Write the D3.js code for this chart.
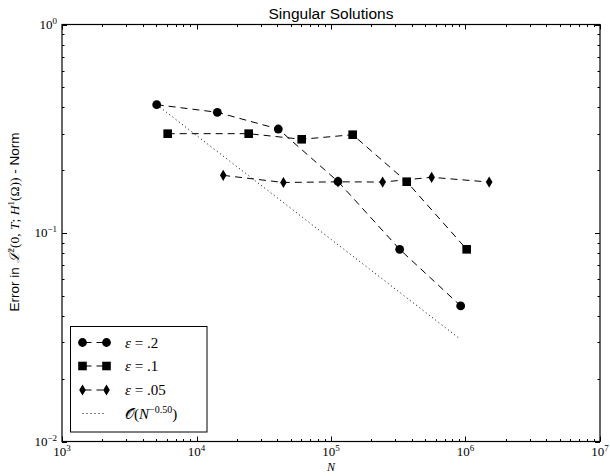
<!DOCTYPE html>
<html><head><meta charset="utf-8">
<script src="https://cdn.jsdelivr.net/npm/d3@7"></script>
<style>body{margin:0;background:#fff}</style>
</head><body><svg id="c" width="610" height="476"></svg>
<script>
// ---- data ----
const eps2N  = [5058, 14280, 40560, 112700, 324000, 920800];
const eps2E  = [0.4124, 0.3793, 0.3153, 0.1766, 0.0835, 0.0447];
const eps1N  = [6106, 24430, 60560, 144900, 365500, 1020000];
const eps1E  = [0.2995, 0.2995, 0.2815, 0.2961, 0.1762, 0.0835];
const eps05N = [15800, 44300, 112700, 242000, 560000, 1500000];
const eps05E = [0.189, 0.1747, 0.176, 0.1755, 0.185, 0.1755];
const refN   = [5058, 895000];
const refE   = [0.4124, 0.0313];
const xTickExps = [3, 4, 5, 6, 7];
const yTickExps = [-2, -1, 0];
const seriesNames = ["ε = .2", "ε = .1", "ε = .05", "O(N^-0.50)"];
const titleText = "Singular Solutions";

const svg = d3.select("#c");
const L = 62, R = 600, T = 24.5, B = 441.5;
const x = d3.scaleLog().domain([1e3, 1e7]).range([L, R]);
const y = d3.scaleLog().domain([1e-2, 1e0]).range([B, T]);

const serif = "'Liberation Serif', 'DejaVu Serif', serif";
const sans = "'Liberation Sans', Arial, sans-serif";

// ticks (inward) on all four sides
const xMinor = x.ticks().filter(v => !xTickExps.some(e => Math.abs(v - Math.pow(10, e)) < 1e-9 * v));
const yMinor = y.ticks().filter(v => !yTickExps.some(e => Math.abs(v - Math.pow(10, e)) < 1e-9 * v));
const xMajor = xTickExps.map(e => Math.pow(10, e));
const yMajor = yTickExps.map(e => Math.pow(10, e));
const tk = svg.append("g").attr("stroke", "#000").attr("stroke-width", 1);
function xt(vals, len) {
  vals.forEach(v => {
    const px = Math.round(x(v)) + 0.5;
    tk.append("line").attr("x1", px).attr("x2", px).attr("y1", B).attr("y2", B - len);
    tk.append("line").attr("x1", px).attr("x2", px).attr("y1", T).attr("y2", T + len);
  });
}
function yt(vals, len) {
  vals.forEach(v => {
    const py = Math.round(y(v)) + 0.5;
    tk.append("line").attr("x1", L).attr("x2", L + len).attr("y1", py).attr("y2", py);
    tk.append("line").attr("x1", R).attr("x2", R - len).attr("y1", py).attr("y2", py);
  });
}
xt(xMinor, 2.5); xt(xMajor, 5);
yt(yMinor, 2.5); yt(yMajor, 5);

// tick labels
xTickExps.forEach(e => {
  const t = svg.append("text").attr("x", x(Math.pow(10, e))).attr("y", 456)
    .attr("text-anchor", "middle").attr("font-family", serif).attr("font-size", 13);
  t.append("tspan").text("10");
  t.append("tspan").attr("dy", -5).attr("font-size", 9).text(String(e));
});
yTickExps.forEach(e => {
  const t = svg.append("text").attr("x", 57).attr("y", y(Math.pow(10, e)) + 4)
    .attr("text-anchor", "end").attr("font-family", serif).attr("font-size", 13);
  t.append("tspan").text("10");
  t.append("tspan").attr("dy", -5).attr("font-size", 9).text(e < 0 ? "\u2212" + (-e) : String(e));
});

// frame
svg.append("rect").attr("x", L).attr("y", T).attr("width", R - L).attr("height", B - T)
  .attr("fill", "none").attr("stroke", "#000").attr("stroke-width", 1.2);

// title and axis labels
svg.append("text").attr("x", (L + R) / 2).attr("y", 18.5).attr("text-anchor", "middle")
  .attr("font-family", sans).attr("font-size", 15.5).text(titleText);
svg.append("text").attr("x", 331).attr("y", 471).attr("text-anchor", "middle")
  .attr("font-family", serif).attr("font-style", "italic").attr("font-size", 12).text("N");

const yl = svg.append("text").attr("transform", "translate(19,222) rotate(-90)")
  .attr("text-anchor", "middle").attr("font-size", 13.5).attr("font-family", sans);
yl.append("tspan").text("Error in ");
yl.append("tspan").attr("font-family", serif).attr("font-style", "italic").text("\u2112");
yl.append("tspan").attr("font-family", serif).attr("font-size", 9).attr("dy", -5).text("2");
yl.append("tspan").attr("font-family", serif).attr("dy", 5).text("(0, ");
yl.append("tspan").attr("font-family", serif).attr("font-style", "italic").text("T");
yl.append("tspan").attr("font-family", serif).text("; ");
yl.append("tspan").attr("font-family", serif).attr("font-style", "italic").text("H");
yl.append("tspan").attr("font-family", serif).attr("font-size", 9).attr("dy", -5).text("1");
yl.append("tspan").attr("font-family", serif).attr("dy", 5).text("(\u03A9))");
yl.append("tspan").text(" - Norm");

// markers
function marker(g, type, cx, cy) {
  if (type === "circle") g.append("circle").attr("cx", cx).attr("cy", cy).attr("r", 4.4).attr("fill", "#000");
  else if (type === "square") g.append("rect").attr("x", cx - 4.3).attr("y", cy - 4.3).attr("width", 8.6).attr("height", 8.6).attr("fill", "#000");
  else g.append("path").attr("d", `M${cx},${cy - 5.6}L${cx + 3.3},${cy}L${cx},${cy + 5.6}L${cx - 3.3},${cy}Z`).attr("fill", "#000");
}
const line = d3.line().x(d => x(d[0])).y(d => y(d[1]));
const series = [
  { N: eps2N, E: eps2E, m: "circle" },
  { N: eps1N, E: eps1E, m: "square" },
  { N: eps05N, E: eps05E, m: "diamond" }
];
const plot = svg.append("g");
series.forEach(s => {
  const pts = s.N.map((n, i) => [n, s.E[i]]);
  plot.append("path").attr("d", line(pts)).attr("fill", "none").attr("stroke", "#000")
    .attr("stroke-width", 1).attr("stroke-dasharray", "7,5");
  pts.forEach(p => marker(plot, s.m, x(p[0]), y(p[1])));
});
plot.append("path").attr("d", line(refN.map((n, i) => [n, refE[i]]))).attr("fill", "none")
  .attr("stroke", "#000").attr("stroke-width", 1).attr("stroke-dasharray", "1,3");

// legend
const lg = svg.append("g");
lg.append("rect").attr("x", 70.5).attr("y", 326.5).attr("width", 136.5).attr("height", 105.5)
  .attr("fill", "#fff").attr("stroke", "#000").attr("stroke-width", 1);
const rowsY = [342.5, 366, 390, 413.5];
const types = ["circle", "square", "diamond"];
types.forEach((t, i) => {
  lg.append("line").attr("x1", 82.5).attr("x2", 106.5).attr("y1", rowsY[i]).attr("y2", rowsY[i])
    .attr("stroke", "#000").attr("stroke-dasharray", "7,5").attr("stroke-dashoffset", -2);
  marker(lg, t, 82.5, rowsY[i]);
  marker(lg, t, 106.5, rowsY[i]);
  const tx = lg.append("text").attr("x", 125).attr("y", rowsY[i] + 5).attr("font-family", serif).attr("font-size", 15);
  const parts = seriesNames[i].split(" = ");
  tx.append("tspan").attr("font-style", "italic").text(parts[0]);
  tx.append("tspan").text("\u00A0=\u00A0" + parts[1]);
});
lg.append("line").attr("x1", 82.5).attr("x2", 106.5).attr("y1", rowsY[3]).attr("y2", rowsY[3])
  .attr("stroke", "#000").attr("stroke-dasharray", "1,3");
const tr = lg.append("text").attr("x", 125).attr("y", rowsY[3] + 5).attr("font-family", serif).attr("font-size", 15);
tr.append("tspan").text("\uD835\uDCAA(");
tr.append("tspan").attr("font-style", "italic").text("N");
tr.append("tspan").attr("font-size", 10).attr("dy", -6).text("\u22120.50");
tr.append("tspan").attr("dy", 6).text(")");
</script>
</body></html>
